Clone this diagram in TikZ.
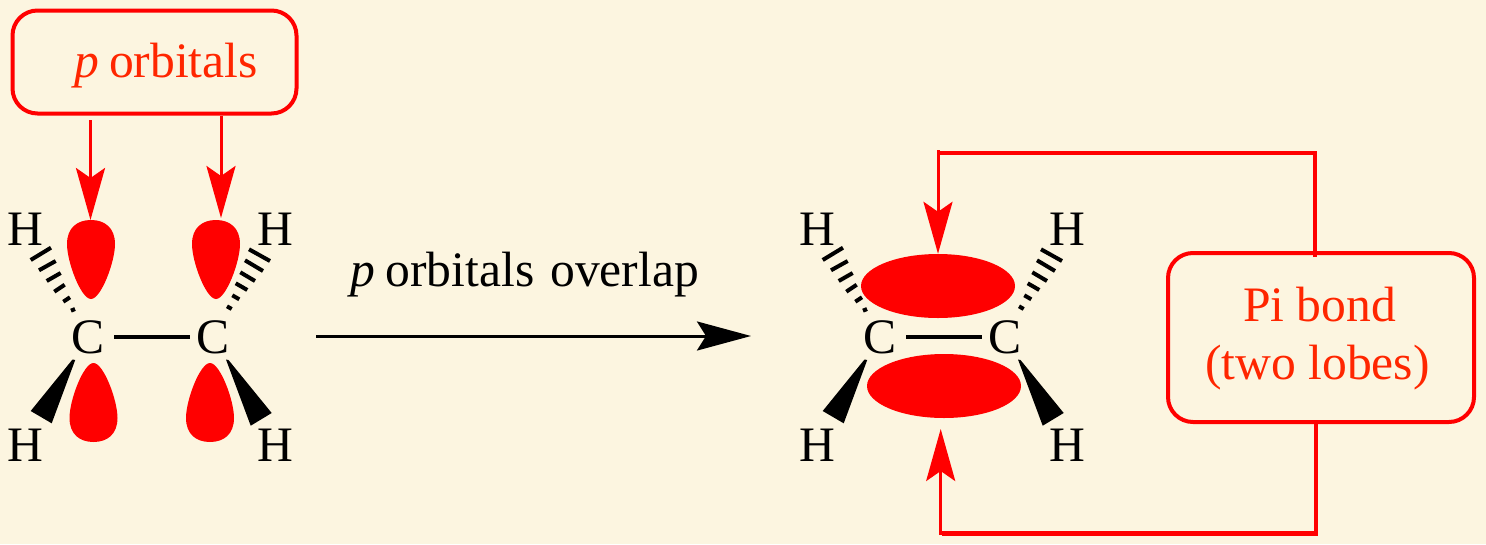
\documentclass[tikz,border=0pt]{standalone}
\usepackage{fontspec}
\setmainfont{Liberation Serif}
\usetikzlibrary{arrows.meta,shapes.geometric}
\definecolor{paper}{RGB}{252,245,224}
\definecolor{lobered}{RGB}{255,0,0}
\definecolor{labelred}{RGB}{255,38,0}
\tikzset{
  atom/.style={inner sep=0pt,anchor=base,text height=33pt,text depth=0pt,font=\fontsize{49.6}{49.6}\selectfont},
  bond/.style={line width=4pt,black},
  hash/.style={line width=4pt,black},
  wedge/.style={fill=black,draw=none},
  lobe/.pic={\fill[lobered] (0,0) .. controls (14,0) and (24,8) .. (24,24)
     .. controls (24,42) and (10,79) .. (0,79)
     .. controls (-10,79) and (-24,42) .. (-24,24)
     .. controls (-24,8) and (-14,0) .. (0,0) -- cycle;},
  flat/.style={ellipse,fill=lobered,draw=none,inner sep=0pt,minimum width=154pt,minimum height=64pt},
  callout/.style={draw=lobered,line width=4pt,rounded corners=25pt,inner sep=0pt,
     text=labelred,font=\fontsize{49.6}{58}\selectfont,align=center},
  redarrow/.style={draw=lobered,line width=3pt,-{Stealth[length=52pt,width=29pt,inset=10pt,color=lobered]}},
  redline/.style={draw=lobered,line width=4.5pt,line join=miter},
  blackarrow/.style={draw=black,line width=3pt,-{Stealth[length=54pt,width=29pt,inset=9pt]}},
  caption/.style={inner sep=0pt,anchor=base west,font=\fontsize{49.6}{49.6}\selectfont},
}
\newcommand{\mymol}{%
  \node[atom] (C1) at (88.5,353) {C};
  \node[atom] (C2) at (213.5,353) {C};
  \node[atom] (H1) at (25,245) {H};
  \node[atom] (H2) at (275,245) {H};
  \node[atom] (H3) at (25,461) {H};
  \node[atom] (H4) at (275,461) {H};
  \draw[bond,shorten <=9.2pt,shorten >=7.2pt] (C1.east) -- (C2.west);
  \draw[hash] (30.7,260) -- (51,247.7);
  \draw[hash] (39,270.3) -- (55.7,261);
  \draw[hash] (46.7,281) -- (60.7,273);
  \draw[hash] (54.3,291.7) -- (64.7,284.7);
  \draw[hash] (63.3,301.7) -- (70,297.3);
  \draw[hash] (71,310.7) -- (75,309);
  \draw[hash] (270,261) -- (249,249.3);
  \draw[hash] (263,271) -- (245,260.3);
  \draw[hash] (255,281) -- (240.3,272.3);
  \draw[hash] (247.3,290) -- (235.7,283.3);
  \draw[hash] (239.3,299.3) -- (232.3,295.3);
  \draw[hash] (231.7,309) -- (227,306.3);
  \fill[wedge] (75.2,360) -- (72.5,359.5) -- (30.7,411) -- (51.7,423.3) -- cycle;
  \fill[wedge] (226,359.5) -- (228.5,360) -- (271.7,413) -- (250.7,425.7) -- cycle;
}
\begin{document}
\begin{tikzpicture}[x=1pt,y=-1pt]
  \useasboundingbox (0,0) rectangle (1486,544);
  \fill[paper] (0,0) rectangle (1486,544);

  % left molecule and its p lobes
  \pic at (91,220) {lobe};
  \pic at (216,220) {lobe};
  \pic[yscale=-1] at (93.5,442) {lobe};
  \pic[yscale=-1] at (210,442) {lobe};
  \mymol

  % right molecule and the pi bond
  \node[flat] (topE) at (938,286) {};
  \node[flat] (botE) at (944,386) {};
  \begin{scope}[xshift=792pt,name prefix=b]
    \mymol
  \end{scope}

  % callouts
  \node[callout,minimum width=284pt,minimum height=103pt] (pbox) at (154.5,62)
     {\rule{0pt}{42pt}\hspace*{23pt}{\itshape p}\hspace{10pt}orbitals};
  \node[callout,minimum width=306pt,minimum height=169pt] (pibox) at (1321,337.5)
     {\rule{0pt}{37.5pt}Pi bond\hspace*{3pt}\\(two lobes)\hspace*{7pt}};

  % left callout arrows
  \coordinate (lobeL) at (90.5,220);
  \coordinate (lobeR) at (221,218);
  \coordinate (startL) at (90.5,120);
  \draw[redarrow] (startL) -- (lobeL);
  \draw[redarrow] (pbox.south -| lobeR) -- (lobeR);

  % reaction arrow
  \coordinate (rxA) at (316,336);
  \coordinate (rxB) at (751,336);
  \draw[blackarrow] (rxA) -- (rxB);
  \node[caption] (cap) at (350.5,286) {{\itshape p}\hspace{10pt}orbitals\hspace{16pt}overlap};

  % pi box connectors
  \coordinate (upS) at (1315,257);
  \coordinate (upE) at (939,153);
  \coordinate (dnS) at (1316,422);
  \coordinate (dnE) at (942,533.3);
  \draw[redline] (upS) |- (upE);
  \draw[redline] (dnS) |- (dnE);
  \coordinate (arT) at (938,150);
  \coordinate (arB) at (940.7,535);
  \coordinate (tipB) at (940.7,429);
  \draw[redarrow] (arT) -- (topE.north);
  \draw[redarrow] (arB) -- (tipB);
\end{tikzpicture}
\end{document}
